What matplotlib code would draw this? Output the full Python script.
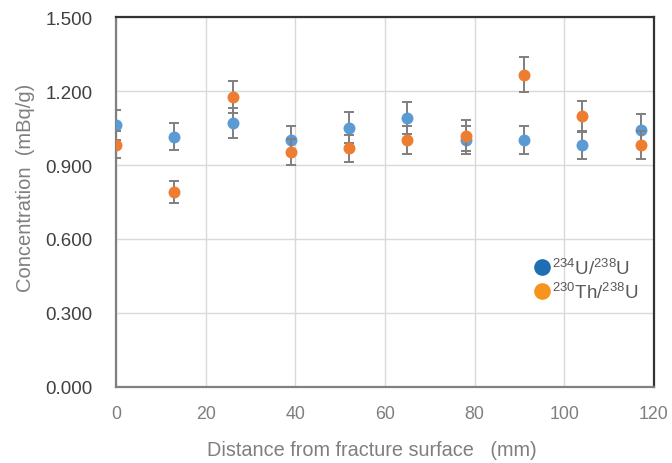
import matplotlib
matplotlib.use("Agg")
import matplotlib.pyplot as plt
from matplotlib.lines import Line2D

plt.rcParams['font.family'] = ['Liberation Sans', 'DejaVu Sans']
plt.rcParams['mathtext.fontset'] = 'custom'
plt.rcParams['mathtext.rm'] = 'Liberation Sans'
plt.rcParams['mathtext.it'] = 'Liberation Sans'

distance = [0, 13, 26, 39, 52, 65, 78, 91, 104, 117]
u234_u238 = [1.063, 1.015, 1.071, 1.001, 1.052, 1.092, 1.001, 1.001, 0.982, 1.042]
u234_err = [0.060, 0.054, 0.060, 0.057, 0.064, 0.065, 0.058, 0.057, 0.057, 0.063]
th230_u238 = [0.983, 0.790, 1.177, 0.953, 0.967, 1.001, 1.019, 1.266, 1.098, 0.981]
th230_err = [0.055, 0.045, 0.065, 0.052, 0.056, 0.057, 0.062, 0.070, 0.063, 0.057]

label_u = r'$^{234}$U/$^{238}$U'
label_th = r'$^{230}$Th/$^{238}$U'
xticks = [0, 20, 40, 60, 80, 100, 120]
yticks = [0.0, 0.3, 0.6, 0.9, 1.2, 1.5]

fig = plt.figure(figsize=(6.72, 4.64), dpi=100)
ax = fig.add_axes([0.1726, 0.1638, 0.8006, 0.7974])

for y, e, c, z in [(u234_u238, u234_err, '#5B9BD5', 3), (th230_u238, th230_err, '#ED7D31', 4)]:
    ax.errorbar(distance, y, yerr=e, fmt='none', ecolor='#7F7F7F',
                elinewidth=1.4, capsize=3.6, capthick=1.4, zorder=z)
    ax.plot(distance, y, 'o', color=c, markersize=8.6, markeredgewidth=0, zorder=z + 0.5)

ax.set_xlim(0, 120)
ax.set_ylim(0, 1.5)
ax.set_xticks(xticks)
ax.set_yticks(yticks)
ax.set_yticklabels([f'{v:.3f}' for v in yticks])
ax.grid(True, color='#D9D9D9', linewidth=1.0, zorder=0)
ax.set_axisbelow(True)

ax.tick_params(axis='x', length=0, labelsize=12.8, colors='#7F7F7F', pad=13)
ax.tick_params(axis='y', length=0, labelsize=13.5, colors='#404040', pad=17)

for s in ['top', 'right']:
    ax.spines[s].set_color('#333333')
    ax.spines[s].set_linewidth(1.6)
for s in ['left', 'bottom']:
    ax.spines[s].set_color('#808080')
    ax.spines[s].set_linewidth(1.6)

ax.set_xlabel('Distance from fracture surface   (mm)', fontsize=14.3, color='#7F7F7F')
ax.xaxis.set_label_coords(0.475, -0.142)
ax.set_ylabel('Concentration  (mBq/g)', fontsize=14.5, color='#7F7F7F')
ax.yaxis.set_label_coords(-0.150, 0.542)

handles = [
    Line2D([], [], marker='o', linestyle='none', markersize=12, color='#1F6EB4', markeredgewidth=0),
    Line2D([], [], marker='o', linestyle='none', markersize=12, color='#F7941D', markeredgewidth=0),
]
leg = ax.legend(handles, [label_u, label_th], loc='center left',
                bbox_to_anchor=(0.735, 0.29), frameon=False, fontsize=13.5,
                handletextpad=-0.25, labelspacing=0.22, handlelength=1.5,
                labelcolor='#595959')

fig.savefig('out.png', dpi=100, facecolor='white')
